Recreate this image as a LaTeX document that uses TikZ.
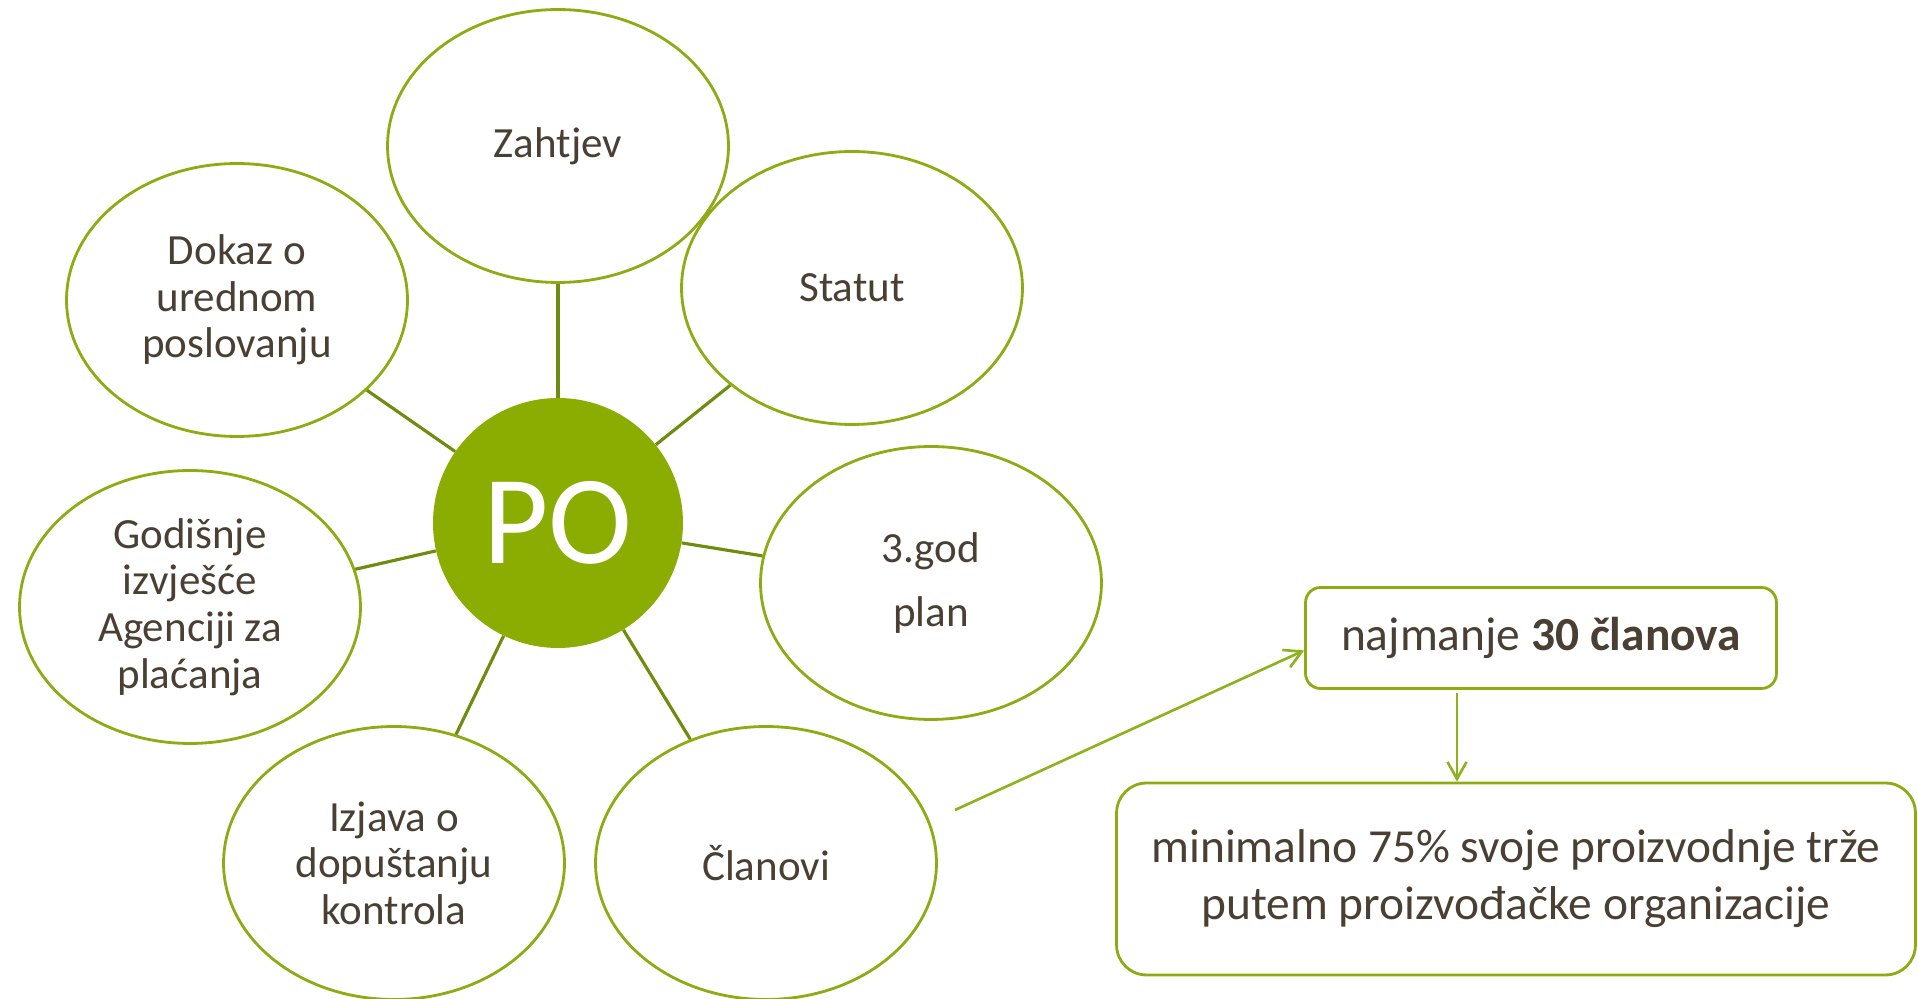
\documentclass[tikz,border=0pt]{standalone}
\usepackage{fontspec}
\setmainfont{Carlito}
\usetikzlibrary{shapes.geometric}
\usetikzlibrary{arrows.meta}

\definecolor{pogreen}{HTML}{8BAC00}
\definecolor{poline}{HTML}{8EAB14}
\definecolor{spokecol}{HTML}{6E8C0E}
\definecolor{arrowcol}{HTML}{8DB31C}
\definecolor{potext}{HTML}{4A3F33}

\begin{document}
\begin{tikzpicture}[x=0.02cm,y=-0.02cm]
  \tikzset{bubble/.style = {shape=ellipse,draw=poline,line width=1.6pt,minimum width=6.82cm,minimum height=5.46cm,inner sep=0pt,align=center,text=potext,font=\fontsize{24.5}{26.5}\selectfont}}
  \tikzset{spoke/.style = {draw=spokecol,line width=1.8pt}}
  \tikzset{box/.style = {shape=rectangle,draw=poline,line width=1.6pt,inner sep=0pt,align=center,text=potext,font=\fontsize{27}{32.5}\selectfont}}
  \tikzset{edge/.style = {-{Straight Barb[length=0.34cm,width=0.38cm]},draw=arrowcol,line width=1.5pt}}

  \useasboundingbox (0,0) rectangle (1918,999);

  \node[shape=circle,fill=pogreen,minimum size=5cm,inner sep=0pt,text=white,font=\fontsize{72}{72}\selectfont] (po) at (558,523) {PO};
  \node[bubble] (zah) at (558,146) {Zahtjev};
  \node[bubble] (sta) at (852,288) {Statut};
  \node[bubble] (dok) at (237,300) {Dokaz o\\urednom\\poslovanju};
  \node[bubble] (god) at (931,583) {3.god\\[10pt]plan};
  \node[bubble] (izv) at (190,607) {Godišnje\\izvješće\\Agenciji za\\plaćanja};
  \node[bubble] (izj) at (394,863) {Izjava o\\dopuštanju\\kontrola};
  \node[bubble] (cla) at (766,863) {Članovi};

  \node[box,rounded corners=0.3cm,minimum width=9.42cm,minimum height=2.02cm] (nbox) at (1541,638) {najmanje \textbf{30 članova}};
  \node[box,rounded corners=0.6cm,minimum width=15.98cm,minimum height=3.84cm] (mbox) at (1516,879) {minimalno 75\% svoje proizvodnje trže\\putem proizvođačke organizacije};

  \coordinate (claout) at (955,810);
  \coordinate (ntop) at (1457,693);

  \draw[spoke] (po) -- (zah);
  \draw[spoke] (po) -- (sta);
  \draw[spoke] (po) -- (dok);
  \draw[spoke] (po) -- (god);
  \draw[spoke] (po) -- (izv);
  \draw[spoke] (po) -- (izj);
  \draw[spoke] (po) -- (cla);

  \draw[edge] (claout) -- (nbox.183);
  \draw[edge] (ntop) -- (ntop |- mbox.north);

\end{tikzpicture}
\end{document}
